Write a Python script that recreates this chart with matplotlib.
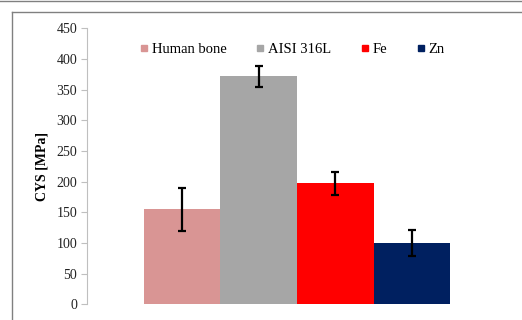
import matplotlib
matplotlib.use("Agg")
import matplotlib.pyplot as plt
from matplotlib.lines import Line2D

materials = ["Human bone", "AISI 316L", "Fe", "Zn"]
cys = [155, 372, 197, 100]
err = [35, 17, 18, 21]
colors = ["#D99594", "#A6A6A6", "#FF0000", "#002060"]
yticks = [0, 50, 100, 150, 200, 250, 300, 350, 400, 450]

plt.rcParams["font.family"] = ["Liberation Serif", "DejaVu Serif"]

fig = plt.figure(figsize=(5.22, 3.2), dpi=100)
W, H = 522, 320
ax = fig.add_axes([87 / W, 1 - 304.3 / H, (507 - 87) / W, (304.3 - 28.3) / H])

x = list(range(len(materials)))
ax.bar(x, cys, width=1.0, color=colors, edgecolor="none")
ax.errorbar(x, cys, yerr=err, fmt="none", ecolor="black", elinewidth=1.6,
            capsize=2.8, capthick=1.6)

ax.set_xlim(-1.245, 4.245)
ax.set_ylim(0, 450)
ax.set_yticks(yticks)
ax.set_yticklabels([str(v) for v in yticks], fontsize=10)
ax.set_xticks([])
for s in ["top", "right", "bottom"]:
    ax.spines[s].set_visible(False)
ax.spines["left"].set_color("#BFBFBF")
ax.spines["left"].set_linewidth(0.8)
ax.tick_params(axis="y", direction="out", length=4, width=0.8, color="#BFBFBF",
               pad=3, labelcolor="#222222")
ax.set_ylabel("CYS [MPa]", fontsize=10, fontweight="bold", labelpad=6)

handles = [Line2D([0], [0], marker="s", linestyle="none", markersize=5,
                  markerfacecolor=c, markeredgecolor=c) for c in colors]
fig.legend(handles, materials, loc="center", bbox_to_anchor=(292 / W, 1 - 49 / H),
           ncol=4, frameon=False, fontsize=10.5, handlelength=0.6,
           handletextpad=0.25, columnspacing=2.0, borderaxespad=0)

# outer frame lines
fig.add_artist(Line2D([0, 1], [1 - 0.5 / H, 1 - 0.5 / H], transform=fig.transFigure,
                      color="#808080", linewidth=1.0))
fig.add_artist(Line2D([11.5 / W, 1], [1 - 11.8 / H, 1 - 11.8 / H], transform=fig.transFigure,
                      color="#808080", linewidth=1.0))
fig.add_artist(Line2D([11.5 / W, 11.5 / W], [0, 1 - 11.8 / H], transform=fig.transFigure,
                      color="#808080", linewidth=1.0))

fig.savefig("out.png", dpi=100)
